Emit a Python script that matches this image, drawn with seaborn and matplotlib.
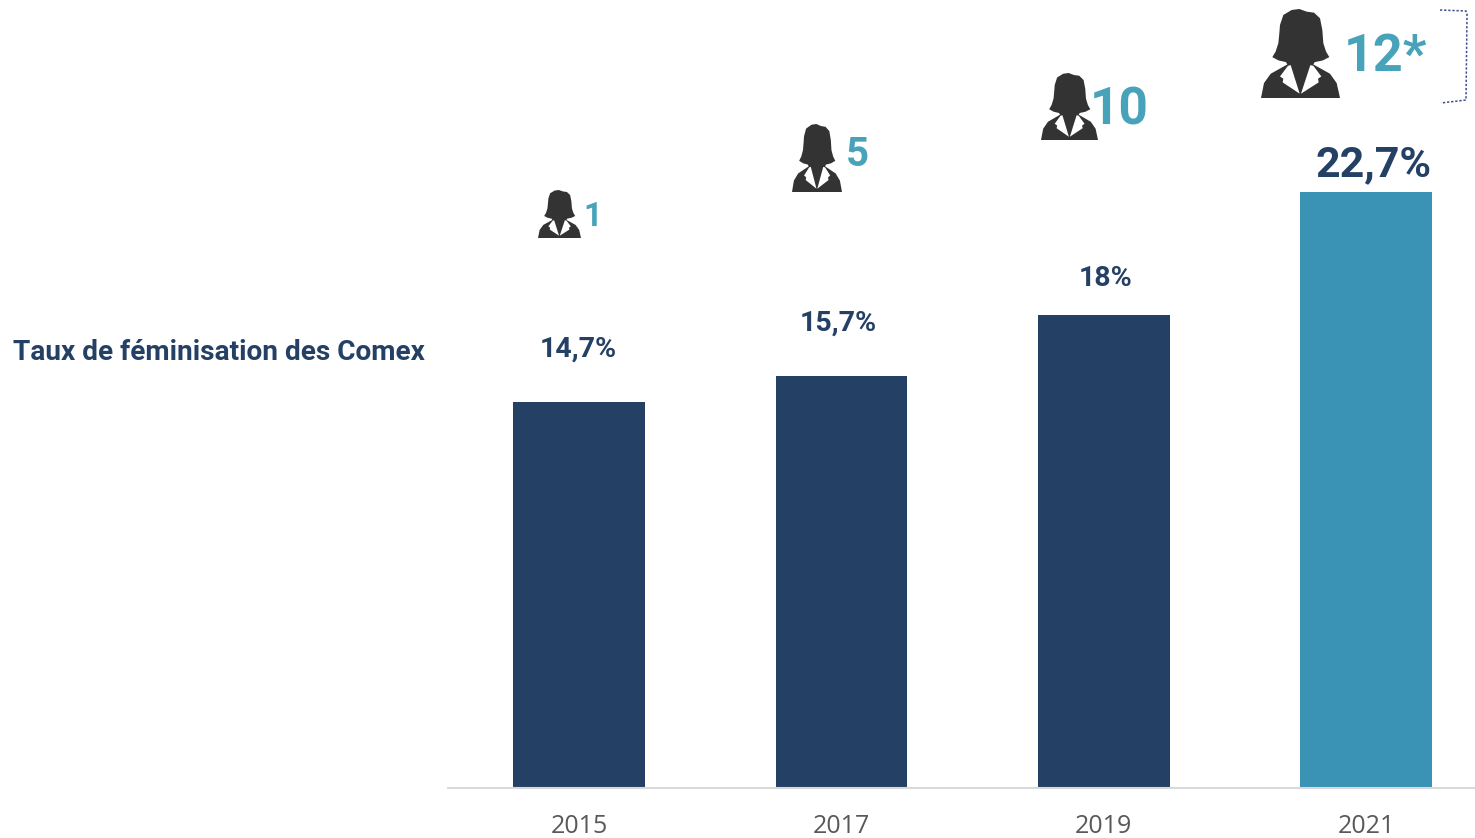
import pandas as pd
import matplotlib
matplotlib.use('Agg')
import matplotlib.pyplot as plt
import seaborn as sns
from matplotlib.patches import Polygon
from matplotlib.lines import Line2D
from matplotlib.transforms import Affine2D

# ================= DONNEES =================
annees = ['2015', '2017', '2019', '2021']
taux = [14.7, 15.7, 18.0, 22.7]
taux_labels = ['14,7%', '15,7%', '18%', '22,7%']
nb_femmes = ['1', '5', '10', '12*']

# ================= STYLE =================
W, H = 1475, 838
BLEU = '#254065'
TEAL = '#3A92B5'
TEAL_TXT = '#48A3BA'
GRIS = '#333333'

# silhouette (coordonnees relues sur le zoom, remises dans une boite 0-1 plus bas)
SILHOUETTE = [(120, 75), (130, 45), (155, 30), (178, 27), (200, 35), (222, 38), (240, 55), (247, 90),
              (250, 130), (258, 155), (268, 172), (248, 182), (224, 187), (220, 194), (270, 222),
              (290, 250), (300, 295), (63, 295), (72, 250), (92, 222), (142, 194), (138, 187),
              (116, 182), (97, 172), (107, 155), (115, 130), (118, 100)]
COL_D = [(220, 198), (244, 230), (234, 237), (236, 248), (183, 282), (211, 196)]
COL_G = [(144, 198), (120, 230), (130, 237), (128, 248), (179, 282), (152, 196)]


def icone(fig, trans, x0, y0, x1, y1):
    """Dessine la silhouette dans la boite x0..x1, y0..y1 (pixels de l'image)."""
    def conv(pts):
        return [(x0 + (x - 63) / 237 * (x1 - x0), y0 + (y - 27) / 268 * (y1 - y0)) for x, y in pts]
    fig.add_artist(Polygon(conv(SILHOUETTE), closed=True, fc=GRIS, ec='none', transform=trans))
    fig.add_artist(Polygon(conv(COL_D), closed=True, fc='white', ec='none', transform=trans))
    fig.add_artist(Polygon(conv(COL_G), closed=True, fc='white', ec='none', transform=trans))


sns.set_theme(style='white')
plt.rcParams['font.family'] = ['Roboto', 'DejaVu Sans']

fig = plt.figure(figsize=(W / 100, H / 100), dpi=100)
ax = fig.add_axes([448 / W, (H - 788) / H, (W - 448) / W, 788 / H])
# repere en pixels de l'image, origine en haut a gauche
px = Affine2D().scale(1, -1).translate(0, H)

df = pd.DataFrame({'annee': annees, 'taux': taux})
sns.barplot(data=df, x='annee', y='taux', hue='annee', palette=[BLEU, BLEU, BLEU, TEAL],
            width=0.503, saturation=1, legend=False, linewidth=0, ax=ax)

ax.set_xlim(-0.5, 3.415)
ax.set_ylim(0, 30)
ax.set_xlabel('')
ax.set_ylabel('')
ax.set_yticks([])
sns.despine(ax=ax, left=True)
ax.spines['bottom'].set_color('#D9D9D9')
ax.spines['bottom'].set_linewidth(1.5)
ax.tick_params(axis='x', length=0, pad=19, labelsize=18, labelcolor='#595959')
for t in ax.get_xticklabels():
    t.set_fontfamily(['Open Sans', 'DejaVu Sans'])

# etiquettes de valeur, calees sur le haut des barres
decal_x = [-1, -3, 1.5, 7]
decal_y = [53, 52, 37, 27]
tailles = [20.5, 20.5, 20.5, 31]
for i, lab in enumerate(taux_labels):
    ax.annotate(lab, xy=(i, taux[i]), xytext=(decal_x[i], decal_y[i]), textcoords='offset pixels',
                ha='center', va='center', fontsize=tailles[i], fontweight='bold', color=BLEU,
                annotation_clip=False)

# icones et nombre de femmes
boites = [(538, 190, 581, 238), (792, 124, 842, 192), (1041, 73, 1098, 140), (1261, 9, 1340, 98)]
pos_nb = [(593, 217), (857, 155), (1119, 110), (1385, 57)]
tailles_nb = [23.5, 29, 37, 37.5]
for i, nb in enumerate(nb_femmes):
    icone(fig, px, *boites[i])
    fig.text(pos_nb[i][0], pos_nb[i][1], nb, transform=px, ha='center', va='center',
             fontsize=tailles_nb[i], fontweight='bold', color=TEAL_TXT)

fig.text(13, 352, 'Taux de féminisation des Comex', transform=px, ha='left', va='center',
         fontsize=20.15, fontweight='bold', color=BLEU)

# crochet pointille autour du 12*
fig.add_artist(Line2D([1440, 1466, 1467, 1466, 1441], [10, 11, 14, 100, 103], transform=px,
                      color='#3F4E8C', lw=1.1, ls=(0, (1.5, 1.2))))

fig.savefig('out.png', dpi=100)
